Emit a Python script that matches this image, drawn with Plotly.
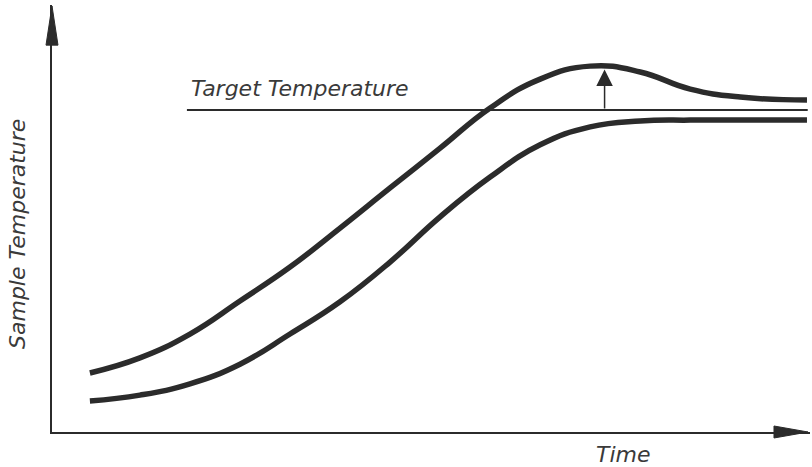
import plotly.graph_objects as go

# Data (time, temperature in arbitrary units)
time_x = [5.0, 11.6, 18.2, 24.8, 31.4, 38.0, 44.6, 51.2, 57.8, 64.4, 71.0, 77.6, 84.2, 90.8, 99.6]
lower_y = [7.4, 8.8, 11.5, 16.2, 23.4, 31.1, 40.6, 51.4, 60.9, 68.6, 72.9, 74.3, 74.5, 74.5, 74.5]
upper_y = [14.1, 17.7, 23.4, 31.3, 39.4, 48.7, 58.3, 67.8, 77.4, 84.3, 87.4, 86.0, 81.9, 80.0, 79.3]

target_x = [17.8, 99.7]
target_y = [76.9, 76.9]

peak_x = 72.9
peak_y = 86.6

line_color = "#2b2b2b"

fig = go.Figure()
fig.add_trace(go.Scatter(x=time_x, y=lower_y, mode="lines",
                         line=dict(color=line_color, width=5.5, shape="spline", smoothing=1.3)))
fig.add_trace(go.Scatter(x=time_x, y=upper_y, mode="lines",
                         line=dict(color=line_color, width=5.5, shape="spline", smoothing=1.3)))
fig.add_trace(go.Scatter(x=target_x, y=target_y, mode="lines",
                         line=dict(color=line_color, width=2)))

# overshoot arrow
fig.add_annotation(x=peak_x, y=peak_y, ax=peak_x, ay=target_y[0], axref="x", ayref="y",
                   xref="x", yref="y", text="", showarrow=True,
                   arrowhead=2, arrowsize=2.2, arrowwidth=1.5, arrowcolor=line_color)

# axis arrowheads (paper coords)
fig.add_shape(type="path", xref="paper", yref="paper",
              path="M -0.0079 0.906 L 0 0.9977 L 0.0079 0.906 Z",
              fillcolor=line_color, line=dict(color=line_color, width=1))
fig.add_shape(type="path", xref="paper", yref="paper",
              path="M 0.9525 0.01405 L 0.9974 0 L 0.9525 -0.01405 Z",
              fillcolor=line_color, line=dict(color=line_color, width=1))

text_font = dict(family="DejaVu Sans", size=22, color="#3a3a3a")
fig.add_annotation(text="<i>Target Temperature</i>", xref="paper", yref="paper",
                   x=(189 - 52) / 758, y=(432 - 88) / 427, xanchor="left", yanchor="middle",
                   showarrow=False, font=text_font)
fig.add_annotation(text="<i>Sample Temperature</i>", xref="paper", yref="paper",
                   x=(18 - 52) / 758, y=(432 - 234) / 427, xanchor="center", yanchor="middle",
                   textangle=-90, showarrow=False, font=text_font)
fig.add_annotation(text="<i>Time</i>", xref="paper", yref="paper",
                   x=(623 - 52) / 758, y=(432 - 454) / 427, xanchor="center", yanchor="middle",
                   showarrow=False, font=text_font)

fig.update_layout(
    width=812, height=467,
    margin=dict(l=52, r=2, t=5, b=35),
    paper_bgcolor="white", plot_bgcolor="white",
    showlegend=False,
    xaxis=dict(range=[0, 100], showgrid=False, zeroline=False, showticklabels=False,
               ticks="", showline=True, linecolor=line_color, linewidth=2, fixedrange=True),
    yaxis=dict(range=[0, 102], showgrid=False, zeroline=False, showticklabels=False,
               ticks="", showline=True, linecolor=line_color, linewidth=2, fixedrange=True),
)

fig.write_html("out.html", config={"displayModeBar": False},
               post_script="document.body.style.margin='0px';")
